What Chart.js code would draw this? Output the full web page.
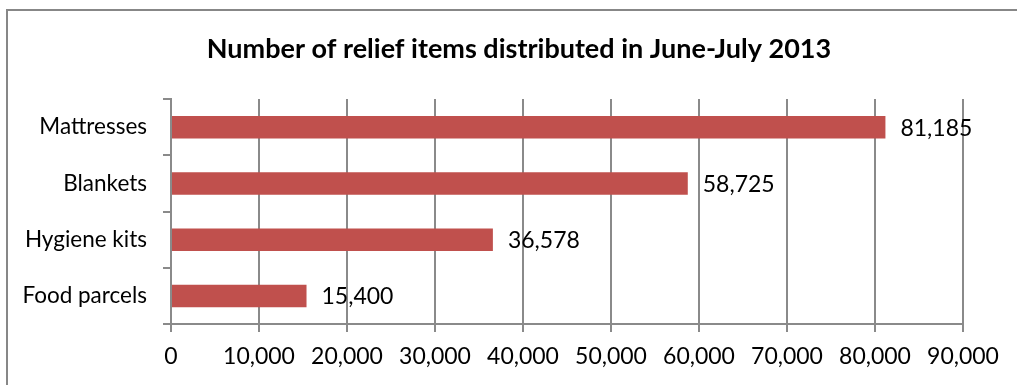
<!DOCTYPE html>
<html>
<head>
<meta charset="utf-8">
<script src="https://cdn.jsdelivr.net/npm/chart.js@4/dist/chart.umd.min.js"></script>
<style>
  html, body { margin: 0; padding: 0; background: #fff; }
  #wrap { position: relative; width: 1017px; height: 385px; }
</style>
</head>
<body>
<div id="wrap"><canvas id="c" width="1017" height="385"></canvas></div>
<script>
const categories = ["Mattresses", "Blankets", "Hygiene kits", "Food parcels"];
const values = [81185, 58725, 36578, 15400];
const tickValues = [0, 10000, 20000, 30000, 40000, 50000, 60000, 70000, 80000, 90000];
const titleText = "Number of relief items distributed in June-July 2013";

const FONT = "Lato, 'Liberation Sans', sans-serif";
const GRID = "#8a8a8a";

function fmt(v) { return v.toLocaleString("en-US"); }

const frame = {
  id: "frame",
  beforeDraw(chart) {
    const ctx = chart.ctx;
    ctx.save();
    ctx.strokeStyle = "#878787";
    ctx.lineWidth = 2;
    ctx.beginPath();
    ctx.moveTo(7, 400);
    ctx.lineTo(7, 10);
    ctx.lineTo(1030, 10);
    ctx.stroke();
    ctx.restore();
  }
};

const chartTitle = {
  id: "chartTitle",
  afterDraw(chart) {
    const ctx = chart.ctx;
    ctx.save();
    ctx.font = "bold 27px " + FONT;
    ctx.fillStyle = "#000";
    ctx.textAlign = "center";
    ctx.textBaseline = "middle";
    ctx.fillText(titleText, 519, 49);
    ctx.restore();
  }
};

const valueLabels = {
  id: "valueLabels",
  afterDatasetsDraw(chart) {
    const ctx = chart.ctx;
    const meta = chart.getDatasetMeta(0);
    ctx.save();
    ctx.font = "23px " + FONT;
    ctx.fillStyle = "#000";
    ctx.textAlign = "left";
    ctx.textBaseline = "middle";
    meta.data.forEach((bar, i) => {
      ctx.fillText(fmt(values[i]), bar.x + 15, bar.y + 1);
    });
    ctx.restore();
  }
};

new Chart(document.getElementById("c"), {
  type: "bar",
  data: {
    labels: categories,
    datasets: [{
      data: values,
      backgroundColor: "#C0504D",
      borderWidth: 0,
      barPercentage: 0.4,
      categoryPercentage: 1.0
    }]
  },
  options: {
    indexAxis: "y",
    responsive: false,
    animation: false,
    devicePixelRatio: 1,
    layout: { padding: { left: 0, right: 54, top: 99, bottom: 0 } },
    plugins: {
      legend: { display: false },
      tooltip: { enabled: false },
      title: { display: false }
    },
    scales: {
      x: {
        min: 0,
        max: 90000,
        afterBuildTicks(scale) { scale.ticks = tickValues.map(v => ({ value: v })); },
        afterFit(scale) { scale.height = 61; },
        grid: { color: GRID, lineWidth: 2, drawTicks: true, tickLength: 8, tickColor: GRID, tickWidth: 2 },
        border: { display: true, color: GRID, width: 2 },
        ticks: {
          color: "#000",
          font: { family: FONT, size: 23 },
          padding: 11,
          maxRotation: 0,
          autoSkip: false,
          callback: (v) => fmt(v)
        }
      },
      y: {
        afterFit(scale) { scale.width = 171; },
        grid: { display: true, drawOnChartArea: false, offset: true, color: GRID, lineWidth: 2, tickLength: 8, tickColor: GRID, tickWidth: 2 },
        border: { display: true, color: GRID, width: 2 },
        ticks: {
          color: "#000",
          font: { family: FONT, size: 22.5 },
          padding: 16
        }
      }
    }
  },
  plugins: [frame, chartTitle, valueLabels]
});
</script>
</body>
</html>
